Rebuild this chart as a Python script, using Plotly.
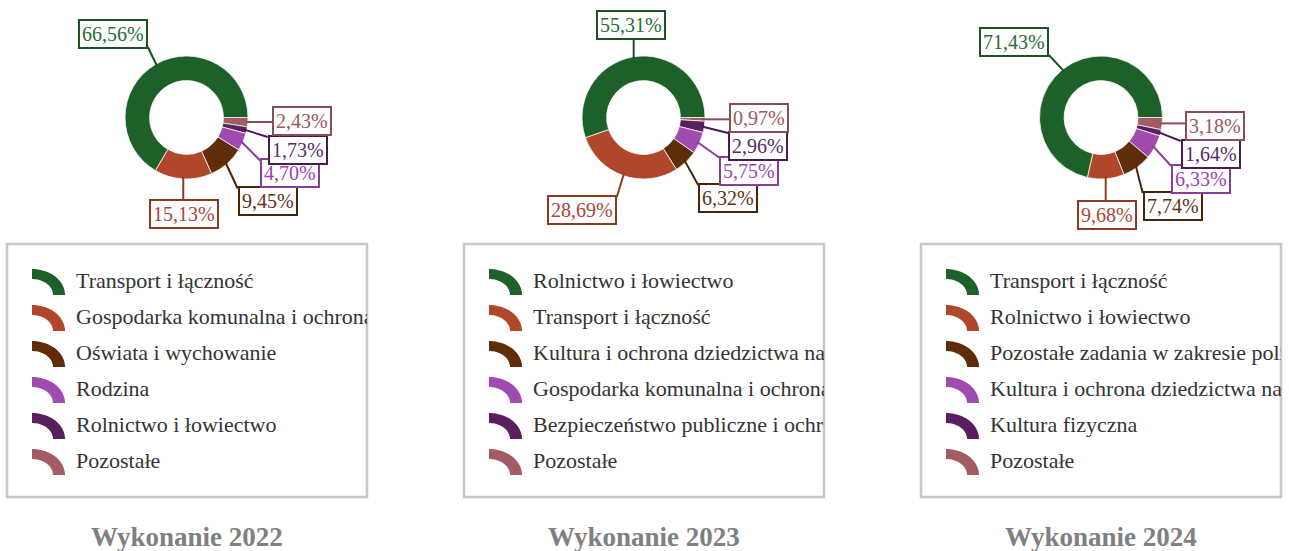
import math
import plotly.graph_objects as go

W, H = 1289, 551

# ---- data -------------------------------------------------------------
years = ["2022", "2023", "2024"]

labels_2022 = ["Transport i łączność",
               "Gospodarka komunalna i ochrona środowiska",
               "Oświata i wychowanie",
               "Rodzina",
               "Rolnictwo i łowiectwo",
               "Pozostałe"]
values_2022 = [66.56, 15.13, 9.45, 4.70, 1.73, 2.43]

labels_2023 = ["Rolnictwo i łowiectwo",
               "Transport i łączność",
               "Kultura i ochrona dziedzictwa narodowego",
               "Gospodarka komunalna i ochrona środowiska",
               "Bezpieczeństwo publiczne i ochrona przeciwpożarowa",
               "Pozostałe"]
values_2023 = [55.31, 28.69, 6.32, 5.75, 2.96, 0.97]

labels_2024 = ["Transport i łączność",
               "Rolnictwo i łowiectwo",
               "Pozostałe zadania w zakresie polityki społecznej",
               "Kultura i ochrona dziedzictwa narodowego",
               "Kultura fizyczna",
               "Pozostałe"]
values_2024 = [71.43, 9.68, 7.74, 6.33, 1.64, 3.18]

# ---- styling ----------------------------------------------------------
slice_colors = ["#1e6029", "#b0462a", "#602d0a", "#a04bb0", "#5a1f5f", "#a35b64"]
label_text_colors = ["#2b6b37", "#a8473a", "#5e3216", "#9a45aa", "#5a2a62", "#9a5862"]
label_border_colors = ["#1c5226", "#8e3a22", "#4a2508", "#8a3c98", "#4a1a52", "#8a4c58"]
FONT = "Liberation Serif"

# panel layout (pixels)
centers_x = [186.5, 643.5, 1101.0]
center_y = 117.5
radius = 61.5
box_left = [7, 464, 921]
box_w, box_top, box_bot = 360, 244, 497

# label box centres per panel (pixels)
label_pos = [
    [(113, 34), (184, 213.5), (267.5, 201.5), (290, 173.5), (297.5, 150), (302, 121.5)],
    [(630.5, 25.5), (582, 210), (728, 198), (749, 170.5), (758, 146), (759.5, 118)],
    [(1014, 42), (1107, 214.5), (1172.5, 206), (1201, 179), (1210.5, 154), (1215, 125.5)],
]


def px(x):
    return x / W


def py(y):
    return 1 - y / H


def fmt(v):
    return f"{v:.2f}".replace(".", ",") + "%"


def text_width(s, size):
    w = 0
    for ch in s:
        if ch.isdigit():
            w += 0.5
        elif ch == ",":
            w += 0.25
        elif ch == "%":
            w += 0.833
    return w * size


fig = go.Figure()
shapes = []
annotations = []

all_labels = [labels_2022, labels_2023, labels_2024]
all_values = [values_2022, values_2023, values_2024]

for p in range(3):
    cx = centers_x[p]
    vals = all_values[p]
    labs = all_labels[p]
    # first category starts at 3 o'clock and runs counter-clockwise:
    # equivalent to the reversed order drawn clockwise from 3 o'clock
    fig.add_trace(go.Pie(
        labels=labs[::-1], values=vals[::-1], sort=False,
        direction="clockwise", rotation=90,
        hole=0.6, textinfo="none", hoverinfo="label+percent",
        marker=dict(colors=slice_colors[::-1],
                    line=dict(color="rgba(255,255,255,0.75)", width=1)),
        domain=dict(x=[px(cx - radius), px(cx + radius)],
                    y=[py(center_y + radius), py(center_y - radius)]),
        showlegend=False,
    ))

    # value labels with leader lines
    total = sum(vals)
    cum = 0.0
    for i, v in enumerate(vals):
        mid = (cum + v / 2) / total * 2 * math.pi
        cum += v
        sx = cx + radius * 0.96 * math.cos(mid)
        sy = center_y - radius * 0.96 * math.sin(mid)
        lx, ly = label_pos[p][i]
        txt = fmt(v)
        hw = text_width(txt, 20) / 2 + 4
        hh = 13
        ex = min(max(sx, lx - hw), lx + hw)
        ey = min(max(sy, ly - hh), ly + hh)
        shapes.append(dict(type="line", xref="paper", yref="paper",
                           x0=px(sx), y0=py(sy), x1=px(ex), y1=py(ey),
                           line=dict(color=label_border_colors[i], width=2)))
        annotations.append(dict(
            x=px(lx), y=py(ly), xref="paper", yref="paper",
            text=txt, showarrow=False, xanchor="center", yanchor="middle",
            font=dict(family=FONT, size=20, color=label_text_colors[i]),
            bgcolor="white", bordercolor=label_border_colors[i],
            borderwidth=2, borderpad=2,
        ))

    # legend frame
    bl = box_left[p]
    shapes.append(dict(type="rect", xref="paper", yref="paper",
                       x0=px(bl), x1=px(bl + box_w), y0=py(box_bot), y1=py(box_top),
                       line=dict(color="#c8c8c8", width=2.5), fillcolor="rgba(0,0,0,0)"))

    # legend rows: arc icon + clipped label
    for i, lab in enumerate(labs):
        ry0 = 280 + 36 * i
        ox, oy = bl + 25, ry0 + 15
        n = 24
        outer = [(ox + 33 * math.cos(a), oy - 26 * math.sin(a))
                 for a in [math.pi / 2 * (1 - k / n) for k in range(n + 1)]]
        inner = [(ox + 21 * math.cos(a), oy - 16 * math.sin(a))
                 for a in [math.pi / 2 * (k / n) for k in range(n + 1)]]
        pts = outer + inner
        path = "M " + " L ".join(f"{px(x):.5f},{py(y):.5f}" for x, y in pts) + " Z"
        shapes.append(dict(type="path", xref="paper", yref="paper", path=path,
                           fillcolor=slice_colors[i], line=dict(width=0)))
        annotations.append(dict(
            x=px(bl + 67), y=py(ry0), xref="paper", yref="paper",
            text=lab, showarrow=False, xanchor="left", yanchor="middle",
            align="left", width=box_w - 69,
            font=dict(family=FONT, size=22, color="#333333"),
        ))

    # panel title
    annotations.append(dict(
        x=px(cx), y=py(537), xref="paper", yref="paper",
        text="<b>Wykonanie " + years[p] + "</b>", showarrow=False,
        xanchor="center", yanchor="middle",
        font=dict(family=FONT, size=27, color="#808080"),
    ))

fig.update_layout(
    width=W, height=H,
    margin=dict(l=0, r=0, t=0, b=0),
    paper_bgcolor="white", plot_bgcolor="white",
    shapes=shapes, annotations=annotations,
    showlegend=False,
)

fig.write_html("out.html")
